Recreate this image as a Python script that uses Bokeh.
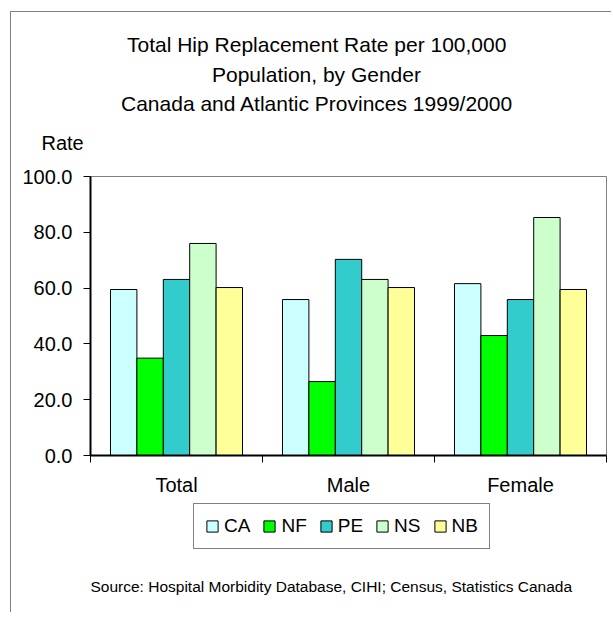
from bokeh.plotting import figure
from bokeh.layouts import column
from bokeh.models import (ColumnDataSource, Range1d, LinearAxis,
                          FixedTicker, NumeralTickFormatter,
                          Legend, LegendItem, Title, Label)
from bokeh.transform import dodge
from bokeh.embed import file_html
from bokeh.resources import INLINE

# ---- data ----
categories = ["Total", "Male", "Female"]
provinces = ["CA", "NF", "PE", "NS", "NB"]
CA = [59.5, 55.9, 61.6]
NF = [34.9, 26.5, 43.0]
PE = [63.1, 70.3, 55.9]
NS = [76.0, 63.1, 85.3]
NB = [60.2, 60.2, 59.5]
colors = ["#CCFFFF", "#00FF00", "#33CCCC", "#CCFFCC", "#FFFF99"]
y_ticks = [0, 20, 40, 60, 80, 100]
title_lines = ["Total Hip Replacement Rate per 100,000",
               "Population, by Gender",
               "Canada and Atlantic Provinces 1999/2000"]
y_label = "Rate"
source_note = "Source:  Hospital Morbidity Database, CIHI; Census, Statistics Canada"

FONT = "Liberation Sans"

n = len(categories)
centers = [i + 0.5 for i in range(n)]
src = ColumnDataSource(dict(pos=centers, cat=categories, CA=CA, NF=NF, PE=PE, NS=NS, NB=NB))

# ---------------- main chart ----------------
p = figure(x_range=Range1d(0, n), y_range=Range1d(0, 100),
           width=600, height=490, output_backend="svg", toolbar_location=None,
           x_axis_location=None, y_axis_location="left",
           min_border_left=79, min_border_right=5,
           min_border_top=164, min_border_bottom=47)
p.title.visible = False
p.grid.visible = False
p.outline_line_color = "#808080"
p.outline_line_width = 1
p.background_fill_color = "white"
p.border_fill_color = "white"

ya = p.yaxis[0]
ya.ticker = FixedTicker(ticks=y_ticks)
ya.formatter = NumeralTickFormatter(format="0.0")
ya.major_tick_out = 7
ya.major_tick_in = 0
ya.minor_tick_line_color = None
ya.axis_line_width = 2
ya.axis_line_color = "black"
ya.major_tick_line_color = "black"
ya.major_tick_line_width = 1
ya.major_label_standoff = 11
ya.major_label_text_font = FONT
ya.major_label_text_font_size = "20px"
ya.major_label_text_color = "black"

# category boundary ticks
tick_axis = LinearAxis(ticker=FixedTicker(ticks=list(range(n + 1))),
                       major_tick_out=7, major_tick_in=0,
                       minor_tick_line_color=None,
                       axis_line_width=2, axis_line_color="black",
                       major_tick_line_color="black",
                       major_label_text_font_size="0px",
                       major_label_text_color=None,
                       major_label_standoff=0)
p.add_layout(tick_axis, "below")

# category labels at group centres
cat_axis = LinearAxis(ticker=FixedTicker(ticks=centers),
                      major_label_overrides={c: lab for c, lab in zip(centers, categories)},
                      axis_line_color=None, major_tick_line_color=None,
                      minor_tick_line_color=None,
                      major_label_standoff=5,
                      major_label_text_font=FONT,
                      major_label_text_font_size="20px",
                      major_label_text_color="black")
p.add_layout(cat_axis, "below")

bw = 0.1535
for i, (prov, col) in enumerate(zip(provinces, colors)):
    p.vbar(x=dodge("pos", (i - 2) * bw), top=prov, width=bw, source=src,
           fill_color=col, line_color="black", line_width=1)

# titles stacked outward from the frame (a thin spacer first)
p.add_layout(Title(text=" ", align="left", standoff=7,
                   text_font=FONT, text_font_size="1px",
                   text_font_style="normal", text_color="white"), "above")
p.add_layout(Title(text=y_label, align="left", offset=-49, standoff=26,
                   text_font=FONT, text_font_size="20px",
                   text_font_style="normal", text_color="black"), "above")
for txt, off, so in zip(reversed(title_lines), [30.5, 121.5, 36.5], [4, 3, 7]):
    p.add_layout(Title(text=txt, align="left", offset=off, standoff=so,
                       text_font=FONT, text_font_size="21px",
                       text_font_style="normal", text_color="black"), "above")

# ---------------- legend + source strip ----------------
q = figure(x_range=Range1d(0, n), y_range=Range1d(-2, -1),
           width=600, height=110, output_backend="svg", toolbar_location=None,
           x_axis_location=None, y_axis_location=None,
           min_border=0, min_border_left=0, min_border_right=0,
           min_border_top=0, min_border_bottom=0)
q.title.visible = False
q.grid.visible = False
q.outline_line_color = None
q.background_fill_color = "white"
q.border_fill_color = "white"

items = []
for i, (prov, col) in enumerate(zip(provinces, colors)):
    r = q.vbar(x=dodge("pos", (i - 2) * bw), top=prov, width=bw, source=src,
               fill_color=col, line_color="black", line_width=1, visible=False)
    items.append(LegendItem(label=prov, renderers=[r]))

legend = Legend(items=items, orientation="horizontal", location=(103, 63),
                margin=0, padding=11, spacing=12, label_standoff=5,
                glyph_width=14, glyph_height=14,
                label_text_font=FONT, label_text_font_size="19px",
                label_text_color="black",
                border_line_color="black", border_line_width=1.5,
                background_fill_color="white", background_fill_alpha=1,
                inactive_fill_alpha=0)
q.add_layout(legend, "center")

q.add_layout(Label(x=0, y=26, x_units="screen", y_units="screen", text=source_note,
                   text_align="left", text_baseline="middle",
                   text_font=FONT, text_font_size="15.5px", text_color="black"))

page = column(p, q, spacing=0)
page.margin = (11, 0, 0, 10)
page.styles = {"border-left": "1px solid #808080", "border-top": "1px solid #808080"}

open("out.html", "w").write(file_html(page, INLINE))
